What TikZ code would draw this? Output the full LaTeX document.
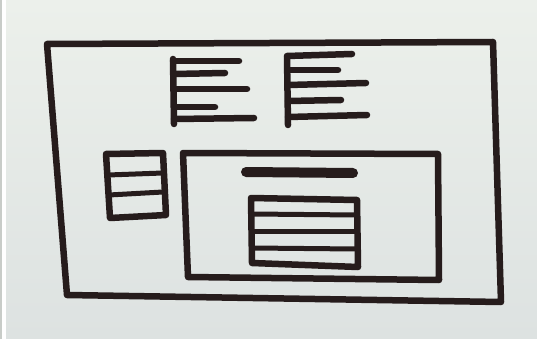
\documentclass[tikz,border=0pt]{standalone}
\begin{document}
\begin{tikzpicture}[x=1pt,y=-1pt,
  ink/.style={draw=inkc,line width=6.5pt,line cap=round,line join=round},
  thinink/.style={draw=inkc,line width=5pt,line cap=round,line join=round},
  barink/.style={draw=inkc,line width=10pt,line cap=round}]
\definecolor{inkc}{RGB}{38,28,28}
\definecolor{papertop}{RGB}{236,240,235}
\definecolor{paperbot}{RGB}{221,226,225}
\definecolor{edgegray}{RGB}{200,204,200}
\useasboundingbox (0,0) rectangle (537,339);
% paper
\shade[top color=papertop,bottom color=paperbot] (6,0) rectangle (537,339);
\fill[white] (2,0) rectangle (6,339);
\fill[edgegray] (0,0) rectangle (2,339);
% outer frame
\draw[ink] (47,44) -- (493,42) -- (501,302) -- (67,295) -- cycle;
% left E list
\draw[ink] (173,59) -- (174,124);
\draw[ink] (173,61) -- (239,61);
\draw[ink] (174,74) -- (225,73);
\draw[ink] (174,89) -- (247,89);
\draw[ink] (174,107) -- (215,107);
\draw[ink] (174,119) -- (254,118);
% right E list
\draw[ink] (287,57) -- (288,125);
\draw[ink] (287,56) -- (352,54);
\draw[ink] (288,70) -- (338,70);
\draw[ink] (288,85) -- (366,83);
\draw[ink] (288,101) -- (341,100);
\draw[ink] (288,117) -- (367,115);
% small left box
\draw[ink] (106,154) -- (163,153) -- (166,215) -- (110,218) -- cycle;
\draw[thinink] (108,175) -- (163,173);
\draw[thinink] (109,195) -- (163,192);
% big inner box
\draw[ink] (183,153) -- (438,154) -- (439,280) -- (188,277) -- cycle;
\draw[barink] (246,172) -- (353,173);
% inner table
\draw[ink] (251,198) -- (357,200) -- (358,267) -- (252,263) -- cycle;
\draw[thinink] (252,214) -- (356,215);
\draw[thinink] (252,231) -- (356,231);
\draw[thinink] (252,248) -- (356,249);
\end{tikzpicture}
\end{document}
